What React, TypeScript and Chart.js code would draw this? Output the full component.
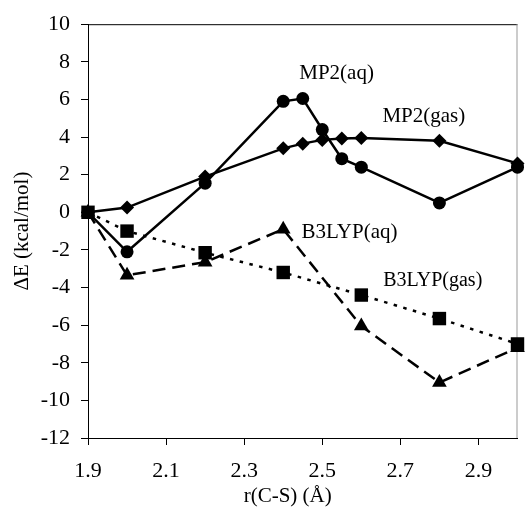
import React, { useEffect, useRef } from "react";
import { Chart, registerables } from "chart.js";

Chart.register(...registerables);

// ---- data ----
const X_MP2 = [1.9, 2.0, 2.2, 2.4, 2.45, 2.5, 2.55, 2.6, 2.8, 3.0];
const MP2_AQ = [0, -2.1, 1.55, 5.9, 6.05, 4.4, 2.85, 2.4, 0.5, 2.4];
const MP2_GAS = [0, 0.25, 1.9, 3.4, 3.65, 3.85, 3.92, 3.95, 3.8, 2.6];
const X_B3 = [1.9, 2.0, 2.2, 2.4, 2.6, 2.8, 3.0];
const B3_AQ = [0, -3.35, -2.65, -0.9, -6.05, -9.05, -7.2];
const B3_GAS = [0, -1.0, -2.15, -3.2, -4.4, -5.65, -7.0];

const X_TICKS = [1.9, 2.1, 2.3, 2.5, 2.7, 2.9];
const Y_MIN = -12;
const Y_MAX = 10;
const Y_STEP = 2;

const SERIES_LABELS = ["MP2(aq)", "MP2(gas)", "B3LYP(aq)", "B3LYP(gas)"];
const LABEL_AT_X = [2.441, 2.654, 2.447, 2.656];
const LABEL_AT_Y = [7.09, 4.82, -1.36, -3.94];

const X_TITLE = "r(C-S) (Å)";
const Y_TITLE = "ΔE (kcal/mol)";

const FONT = '"Liberation Serif", "Times New Roman", serif';

const pts = (xs: number[], ys: number[]) => xs.map((x, i) => ({ x, y: ys[i] }));

const overlay = {
  id: "overlay",
  beforeDatasetsDraw(chart: any) {
    const { ctx, chartArea } = chart;
    ctx.save();
    ctx.lineWidth = 1;
    ctx.strokeStyle = "#000";
    ctx.beginPath();
    ctx.moveTo(chartArea.left, chartArea.top + 0.5);
    ctx.lineTo(chartArea.right, chartArea.top + 0.5);
    ctx.stroke();
    ctx.strokeStyle = "#999";
    ctx.beginPath();
    ctx.moveTo(chartArea.right - 0.5, chartArea.top);
    ctx.lineTo(chartArea.right - 0.5, chartArea.bottom);
    ctx.stroke();
    ctx.restore();
  },
  afterDraw(chart: any) {
    const { ctx, chartArea } = chart;
    const xs = chart.scales.x;
    const ys = chart.scales.y;
    ctx.save();
    ctx.fillStyle = "#000";
    ctx.textAlign = "left";
    ctx.textBaseline = "alphabetic";
    SERIES_LABELS.forEach((t, i) => {
      ctx.font = `${i === 3 ? 20 : 21}px ${FONT}`;
      ctx.fillText(t, xs.getPixelForValue(LABEL_AT_X[i]), ys.getPixelForValue(LABEL_AT_Y[i]));
    });
    ctx.font = `21px ${FONT}`;
    ctx.textAlign = "center";
    ctx.textBaseline = "middle";
    const cx = chartArea.left + (chartArea.right - chartArea.left) * 0.465;
    ctx.fillText(X_TITLE, cx, chartArea.bottom + 58);
    ctx.restore();
  },
};

export default function App() {
  const ref = useRef<HTMLCanvasElement | null>(null);
  useEffect(() => {
    if (!ref.current) return;
    const solid = (data: any, style: string, r: number) => ({
      data,
      borderColor: "#000",
      backgroundColor: "#000",
      borderWidth: 2.5,
      pointStyle: style,
      pointRadius: r,
      pointHoverRadius: r,
      pointBorderWidth: 0,
      showLine: true,
      clip: false as any,
      tension: 0,
    });
    const chart = new Chart(ref.current, {
      type: "scatter",
      data: {
        datasets: [
          { label: "MP2(gas)", ...solid(pts(X_MP2, MP2_GAS), "rectRot", 7) },
          { label: "MP2(aq)", ...solid(pts(X_MP2, MP2_AQ), "circle", 6.5) },
          { label: "B3LYP(gas)", ...solid(pts(X_B3, B3_GAS), "rect", 9.5), borderDash: [3.5, 6.5] },
          { label: "B3LYP(aq)", ...solid(pts(X_B3, B3_AQ), "triangle", 8.5), borderDash: [13, 7] },
        ],
      },
      options: {
        responsive: false,
        animation: false,
        events: [],
        layout: { padding: { top: 21, right: 3, left: 0, bottom: 0 } },
        plugins: { legend: { display: false }, tooltip: { enabled: false } },
        scales: {
          x: {
            type: "linear",
            min: 1.9,
            max: 3.0,
            afterBuildTicks: (s: any) => {
              s.ticks = X_TICKS.map((v) => ({ value: v }));
            },
            afterFit: (s: any) => {
              s.height = 76;
            },
            ticks: {
              color: "#000",
              font: { family: FONT, size: 22 },
              padding: 13,
              maxRotation: 0,
              autoSkip: false,
              callback: (v: any) => Number(v).toFixed(1),
            },
            grid: { drawOnChartArea: false, drawTicks: true, tickLength: 7, color: "#000", lineWidth: 1 },
            border: { display: true, color: "#000", width: 1 },
          },
          y: {
            type: "linear",
            min: Y_MIN,
            max: Y_MAX,
            afterFit: (s: any) => {
              s.width = 88;
            },
            ticks: {
              stepSize: Y_STEP,
              color: "#000",
              font: { family: FONT, size: 22 },
              padding: 11,
              autoSkip: false,
            },
            grid: { drawOnChartArea: false, drawTicks: true, tickLength: 7, color: "#000", lineWidth: 1 },
            border: { display: true, color: "#000", width: 1 },
            title: {
              display: true,
              text: Y_TITLE,
              color: "#000",
              font: { family: FONT, size: 21 },
              padding: { top: 10, bottom: 0 },
            },
          },
        },
      },
      plugins: [overlay],
    });
    return () => chart.destroy();
  }, []);
  return (
    <div style={{ position: "absolute", left: 0, top: 0, width: 527, height: 514, background: "#fff" }}>
      <canvas ref={ref} width={527} height={514} style={{ width: 527, height: 514 }} />
    </div>
  );
}
